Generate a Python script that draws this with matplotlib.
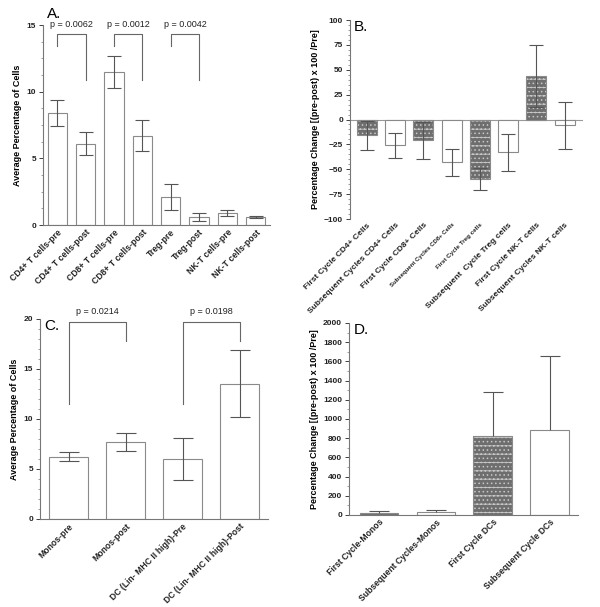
import numpy as np
import matplotlib
matplotlib.use("Agg")
import matplotlib.pyplot as plt
from matplotlib.ticker import AutoMinorLocator

plt.rcParams['font.family'] = ['Liberation Sans', 'DejaVu Sans']
plt.rcParams['hatch.linewidth'] = 0.6

# ---- data ----
a_labels = ["CD4+ T cells-pre", "CD4+ T cells-post", "CD8+ T cells-pre", "CD8+ T cells-post",
            "Treg-pre", "Treg-post", "NK-T cells-pre", "NK-T cells-post"]
a_vals = [8.4, 6.1, 11.5, 6.7, 2.1, 0.6, 0.9, 0.6]
a_err = [1.0, 0.85, 1.2, 1.15, 1.0, 0.3, 0.2, 0.1]
a_pvals = ["p = 0.0062", "p = 0.0012", "p = 0.0042"]

b_labels = ["First Cycle CD4+ Cells", "Subsequent Cycles CD4+ Cells", "First Cycle CD8+ Cells",
            "Subsequent Cycles CD8+ Cells", "First Cycle Treg cells", "Subsequent  Cycle Treg cells",
            "First Cycle NK-T cells", "Subsequent Cycles NK-T cells"]
b_vals = [-16, -26, -21, -43, -60, -33, 44, -6]
b_err = [15, 12.5, 19, 13.5, 11, 18.5, 31, 23.5]
b_first = [True, False, True, False, True, False, True, False]

c_labels = ["Monos-pre", "Monos-post", "DC (Lin- MHC II high)-Pre", "DC (Lin- MHC II high)-Post"]
c_vals = [6.2, 7.7, 6.0, 13.5]
c_err = [0.45, 0.9, 2.1, 3.35]
c_pvals = ["p = 0.0214", "p = 0.0198"]

d_labels = ["First Cycle-Monos", "Subsequent Cycles-Monos", "First Cycle DCs", "Subsequent Cycle DCs"]
d_vals = [25, 30, 820, 890]
d_err = [20, 20, 460, 770]
d_first = [True, False, True, False]

EDGE = '#8a8a8a'
ERR = '#555555'
SPINE = '#777777'
HATCH_FC = '#6e6e6e'


def style_axes(ax):
    for s in ['top', 'right']:
        ax.spines[s].set_visible(False)
    for s in ['left', 'bottom']:
        ax.spines[s].set_color(SPINE)
        ax.spines[s].set_linewidth(0.8)
    ax.tick_params(axis='y', labelsize=6, colors='#222222', length=3, width=0.6, pad=2)
    ax.tick_params(axis='y', which='minor', length=1.8, width=0.5, color=SPINE)
    ax.tick_params(axis='x', length=0, pad=2)
    for t in ax.get_yticklabels():
        t.set_fontweight('bold')


def draw_bars(ax, x, vals, hatched, width):
    for xi, v, h in zip(x, vals, hatched):
        if h:
            ax.bar(xi, v, width=width, color=HATCH_FC, edgecolor='#c8c8c8',
                   hatch='--....', linewidth=0, zorder=2)
            ax.bar(xi, v, width=width, fill=False, edgecolor=EDGE, linewidth=0.8, zorder=3)
        else:
            ax.bar(xi, v, width=width, color='white', edgecolor=EDGE, linewidth=0.8, zorder=2)


def draw_err(ax, x, vals, err, capsize):
    ax.errorbar(x, vals, yerr=err, fmt='none', ecolor=ERR, elinewidth=0.8,
                capsize=capsize, capthick=0.8, zorder=4)


def bracket(ax, x0, x1, top, left_bot, right_bot, text, ty):
    ax.plot([x0, x0, x1, x1], [left_bot, top, top, right_bot], color='#666666', lw=0.8,
            clip_on=False, zorder=5)
    ax.text((x0 + x1) / 2, ty, text, ha='center', va='bottom', fontsize=6.5,
            color='#222222', clip_on=False)


def xlabels(ax, labels, sizes=None):
    ax.set_xticks(np.arange(len(labels)))
    ax.set_xticklabels(labels, rotation=45, ha='right', rotation_mode='anchor',
                       fontweight='bold', fontsize=6.2, color='#222222')
    if sizes is not None:
        for t, s in zip(ax.get_xticklabels(), sizes):
            t.set_fontsize(s)


fig = plt.figure(figsize=(6, 6.07), dpi=100)

# ---- A ----
axA = fig.add_axes([0.0717, 0.6293, 0.3783, 0.3295])
xa = np.arange(len(a_vals))
draw_bars(axA, xa, a_vals, [False] * 8, 0.68)
draw_err(axA, xa, a_vals, a_err, 5)
axA.set_xlim(-0.5, 7.5)
axA.set_ylim(0, 15)
axA.set_yticks([0, 5, 10, 15])
axA.yaxis.set_minor_locator(AutoMinorLocator(4))
style_axes(axA)
xlabels(axA, a_labels)
axA.set_ylabel("Average Percentage of Cells", fontsize=6.5, fontweight='bold', labelpad=3)
for i, p in enumerate(a_pvals):
    bracket(axA, 2 * i, 2 * i + 1, 14.35, 13.4, 10.9, p, 14.7)
axA.text(-0.35, 15.3, "A.", fontsize=11, ha='left', va='bottom')

# ---- B ----
axB = fig.add_axes([0.5833, 0.6392, 0.3884, 0.3278])
xb = np.arange(len(b_vals))
draw_bars(axB, xb, b_vals, b_first, 0.71)
draw_err(axB, xb, b_vals, b_err, 5)
axB.axhline(0, color='#999999', lw=0.8, zorder=1)
axB.set_xlim(-0.6, 7.65)
axB.set_ylim(-100, 100)
axB.set_yticks(np.arange(-100, 101, 25))
axB.yaxis.set_minor_locator(AutoMinorLocator(5))
style_axes(axB)
axB.spines['bottom'].set_visible(False)
xlabels(axB, b_labels, [6, 6, 6, 4.3, 4.5, 6, 6, 6])
axB.set_ylabel("Percentage Change [(pre-post) x 100 /Pre]", fontsize=6.5,
               fontweight='bold', labelpad=3)
axB.text(-0.45, 100, "B.", fontsize=11, ha='left', va='top')

# ---- C ----
axC = fig.add_axes([0.0667, 0.145, 0.38, 0.3295])
xc = np.arange(len(c_vals))
draw_bars(axC, xc, c_vals, [False] * 4, 0.68)
draw_err(axC, xc, c_vals, c_err, 7)
axC.set_xlim(-0.5, 3.5)
axC.set_ylim(0, 20)
axC.set_yticks([0, 5, 10, 15, 20])
axC.yaxis.set_minor_locator(AutoMinorLocator(5))
style_axes(axC)
xlabels(axC, c_labels)
axC.set_ylabel("Average Percentage of Cells", fontsize=6.5, fontweight='bold', labelpad=3)
for i, p in enumerate(c_pvals):
    bracket(axC, 2 * i, 2 * i + 1, 19.7, 11.5, 17.8, p, 20.25)
axC.text(-0.42, 20, "C.", fontsize=11, ha='left', va='top')

# ---- D ----  (only upper error whiskers are shown)
axD = fig.add_axes([0.5817, 0.1516, 0.3816, 0.3163])
xd = np.arange(len(d_vals))
draw_bars(axD, xd, d_vals, d_first, 0.68)
d_top = np.array(d_vals) + np.array(d_err)
axD.vlines(xd, d_vals, d_top, color=ERR, lw=0.8, zorder=4)
axD.plot(xd, d_top, ls='none', marker='_', markersize=14, markeredgewidth=0.8,
         color=ERR, zorder=4)
axD.set_xlim(-0.53, 3.5)
axD.set_ylim(0, 2000)
axD.set_yticks(np.arange(0, 2001, 200))
axD.yaxis.set_minor_locator(AutoMinorLocator(2))
style_axes(axD)
xlabels(axD, d_labels)
axD.set_ylabel("Percentage Change [(pre-post) x 100 /Pre]", fontsize=6.5,
               fontweight='bold', labelpad=3)
axD.text(-0.45, 2000, "D.", fontsize=11, ha='left', va='top')

fig.savefig("out.png", dpi=100)
